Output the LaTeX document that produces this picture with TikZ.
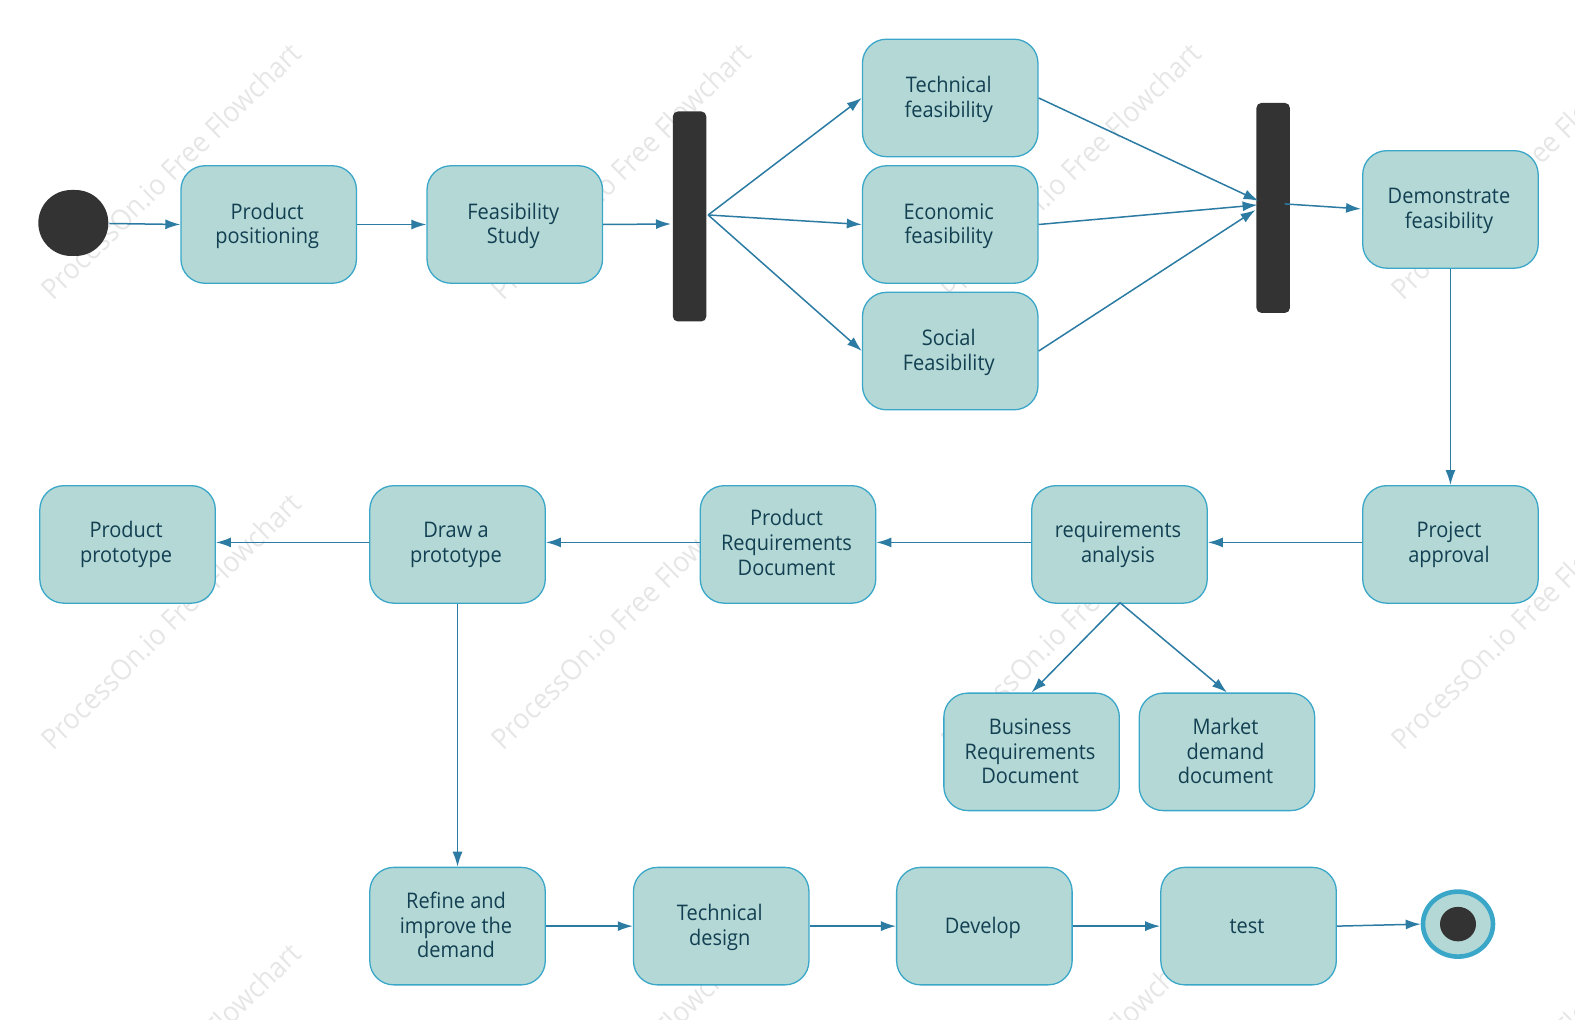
\documentclass[tikz,border=0pt]{standalone}
\usepackage{fontspec}
\setmainfont[FakeStretch=0.93]{Open Sans}
\usetikzlibrary{arrows.meta,shapes.geometric}
\definecolor{boxfill}{HTML}{B4D8D5}
\definecolor{boxline}{HTML}{3AA7C9}
\definecolor{boxtext}{HTML}{123F52}
\definecolor{conn}{HTML}{2B7BA3}
\definecolor{bar}{HTML}{333333}
\definecolor{wm}{HTML}{E6E6E6}
\newcommand{\bt}[2][4pt]{\vbox{\kern#1\hbox{\begin{tabular}{@{}c@{\hspace{3pt}}}#2\end{tabular}}}}
\tikzset{
  stepbox/.style={draw=boxline,fill=boxfill,line width=1.3pt,rounded corners=24pt,
    minimum width=175.5pt,minimum height=117.5pt,inner sep=0pt,text=boxtext,
    font=\fontsize{21.5}{24.6}\selectfont},
  barshape/.style={fill=bar,rounded corners=5pt,minimum width=33.5pt,minimum height=210pt,inner sep=0pt},
  link/.style={draw=conn,line width=1.5pt,-{Latex[length=15pt,width=10pt]}},
  wmark/.style={text=wm,rotate=44.5,font=\fontsize{28.6}{30}\selectfont,inner sep=0pt}
}
\begin{document}
\begin{tikzpicture}[x=1.0045pt,y=-1.0045pt]
\useasboundingbox (0,0) rectangle (1568,1015.4);
\begin{scope}
\clip (0,0) rectangle (1568,1015.4);
\foreach \wy [count=\r] in {170,618,1066}
  \foreach \wx [count=\c] in {170,618,1066,1514}
    \node[wmark] (w\r\c) at (\wx,\wy) {ProcessOn.io Free Flowchart};
\end{scope}
% start / end
\node[fill=bar,rounded corners=33pt,minimum width=70pt,minimum height=66pt,inner sep=0pt] (start) at (73,222) {};
\node[draw=boxline,fill=boxfill,line width=4.6pt,ellipse,minimum width=70pt,minimum height=65pt,inner sep=0pt] (finish) at (1451.5,920) {};
\node[fill=bar,ellipse,minimum width=36pt,minimum height=34.5pt,inner sep=0pt] (finishdot) at (1451.5,920) {};
% row 1
\node[stepbox] (pp) at (267.5,223.5) {\bt{Product\\positioning}};
\node[stepbox] (fs) at (512.5,223.5) {\bt{Feasibility\\Study}};
\node[barshape] (bar1) at (686.5,215.5) {};
\node[stepbox] (tf) at (946,97.5) {\bt{Technical\\feasibility}};
\node[stepbox] (ef) at (946,223.5) {\bt{Economic\\feasibility}};
\node[stepbox] (sf) at (946,349.5) {\bt{Social\\Feasibility}};
\node[barshape] (bar2) at (1267.5,207) {};
\node[stepbox] (df) at (1444,208.5) {\bt[3pt]{Demonstrate\\feasibility}};
% row 2
\node[stepbox] (pa) at (1444,542) {\bt[1.5pt]{Project\\approval}};
\node[stepbox] (ra) at (1114.5,542) {\bt[1.5pt]{requirements\\analysis}};
\node[stepbox] (prd) at (784.5,542) {\bt[2.5pt]{Product\\Requirements\\Document}};
\node[stepbox] (dp) at (455.5,542) {\bt[1.5pt]{Draw a\\prototype}};
\node[stepbox] (proto) at (127,542) {\bt[1.5pt]{Product\\prototype}};
\node[stepbox] (brd) at (1027,748.5) {\bt[5pt]{Business\\Requirements\\Document}};
\node[stepbox] (mdd) at (1221.5,748.5) {\bt[5pt]{Market\\demand\\document}};
% row 3
\node[stepbox] (ref) at (455.5,922) {\bt{Refine and\\improve the\\demand}};
\node[stepbox] (td) at (718,922) {\bt{Technical\\design}};
\node[stepbox] (dev) at (980,922) {\bt{Develop}};
\node[stepbox] (tst) at (1243,922) {\bt{test}};
% free connector ends on the bars
\coordinate (b1o) at (705,214);
\coordinate (b2a) at (1253,200);
\coordinate (b2b) at (1252,204);
\coordinate (b2c) at (1250,209);
\coordinate (b2o) at (1279,203);
\coordinate (dfin) at (1355,208);
\coordinate (b1i) at (668,223);
\coordinate (rab) at (1115,600);
\coordinate (so) at (109,222.5);
% connectors
\draw[link] (so) -- (pp.west);
\draw[link] (pp.east) -- (fs.west);
\draw[link] (fs.east) -- (b1i);
\draw[link] (b1o) -- (tf.west);
\draw[link] (b1o) -- (ef.west);
\draw[link] (b1o) -- (sf.west);
\draw[link] (tf.east) -- (b2a);
\draw[link] (ef.east) -- (b2b);
\draw[link] (sf.east) -- (b2c);
\draw[link] (b2o) -- (dfin);
\draw[link] (df.south) -- (pa.north);
\draw[link] ([yshift=2pt]pa.west) -- ([yshift=2pt]ra.east);
\draw[link] ([yshift=2pt]ra.west) -- ([yshift=2pt]prd.east);
\draw[link] ([yshift=2pt]prd.west) -- ([yshift=2pt]dp.east);
\draw[link] ([yshift=2pt]dp.west) -- ([yshift=2pt]proto.east);
\draw[link] (rab) -- (brd.north);
\draw[link] (rab) -- (mdd.north);
\draw[link] (dp.south) -- (ref.north);
\draw[link] (ref.east) -- (td.west);
\draw[link] (td.east) -- (dev.west);
\draw[link] (dev.east) -- (tst.west);
\draw[link] (tst.east) -- (finish.west);
\end{tikzpicture}
\end{document}
